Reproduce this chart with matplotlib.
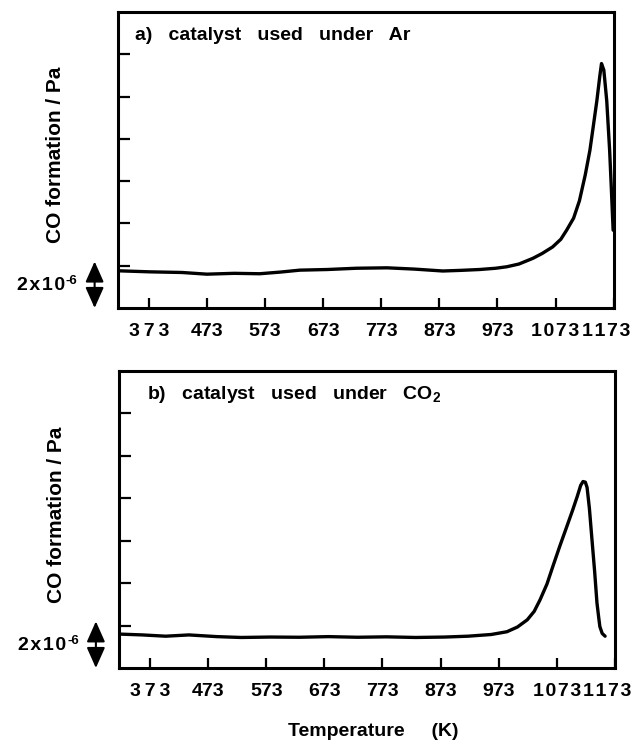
import matplotlib
matplotlib.use("Agg")
import matplotlib.pyplot as plt
from matplotlib.transforms import ScaledTranslation

plt.rcParams["font.family"] = ["Liberation Sans", "DejaVu Sans"]
plt.rcParams["font.weight"] = "bold"
plt.rcParams["mathtext.fontset"] = "custom"
plt.rcParams["mathtext.rm"] = "Liberation Sans:bold"
plt.rcParams["mathtext.bf"] = "Liberation Sans:bold"

# temperature (K) and CO signal (units of 1e-6 Pa above panel bottom)
temp_ar = [320, 375, 430, 473, 520, 564, 600, 633, 680, 730, 783, 830, 879, 910,
           942, 970, 989, 1010, 1034, 1050, 1068, 1082, 1092, 1104, 1114, 1124,
           1132, 1138, 1144, 1149, 1152, 1156, 1161, 1166, 1169, 1172]
co_ar = [1.76, 1.71, 1.68, 1.60, 1.64, 1.62, 1.70, 1.79, 1.82, 1.88, 1.90, 1.84,
         1.75, 1.78, 1.82, 1.88, 1.95, 2.08, 2.35, 2.58, 2.89, 3.25, 3.68, 4.25,
         5.07, 6.29, 7.45, 8.62, 9.80, 10.95, 11.56, 11.25, 9.80, 7.45, 5.6, 3.68]

temp_co2 = [320, 360, 400, 440, 488, 530, 580, 630, 680, 730, 780, 830, 880, 920,
            960, 987, 1005, 1022, 1034, 1044, 1056, 1066, 1078, 1090, 1100, 1108,
            1114, 1118, 1122, 1125, 1129, 1133, 1138, 1142, 1145, 1147, 1151, 1156]
co_co2 = [1.60, 1.56, 1.50, 1.56, 1.48, 1.44, 1.46, 1.45, 1.48, 1.45, 1.47, 1.44,
          1.46, 1.50, 1.58, 1.71, 1.93, 2.27, 2.67, 3.21, 3.96, 4.78, 5.74, 6.66,
          7.43, 8.08, 8.61, 8.79, 8.76, 8.51, 7.52, 6.19, 4.55, 3.07, 2.38, 1.95,
          1.63, 1.50]

x_ticks = [373, 473, 573, 673, 773, 873, 973, 1073, 1173]
x_labels = ["3\u20097\u20093", "473", "573", "673", "773", "873", "973",
            "1\u200a0\u200a7\u200a3", "1\u200a1\u200a7\u200a3"]
y_ticks = [2, 4, 6, 8, 10, 12]
titles = ["a)   catalyst   used   under   Ar",
          "b)   catalyst   used   under   CO$_2$"]

fig = plt.figure(figsize=(6.34, 7.42), dpi=100)
ax_a = fig.add_axes([0.186, 0.5849, 0.782, 0.399])
ax_b = fig.add_axes([0.188, 0.0997, 0.782, 0.4003])

for ax, t, c, title, tx in [(ax_a, temp_ar, co_ar, titles[0], 0.034),
                            (ax_b, temp_co2, co_co2, titles[1], 0.056)]:
    ax.plot(t, c, color="black", lw=2.4, solid_capstyle="round")
    ax.set_xlim(320, 1173)
    ax.set_ylim(0, 14)
    ax.set_xticks(x_ticks)
    ax.set_xticklabels(x_labels, fontsize=14, fontweight="bold")
    ax.set_yticks(y_ticks)
    ax.set_yticklabels([])
    ax.tick_params(axis="x", direction="in", length=7, width=1.6, pad=11)
    ax.tick_params(axis="y", direction="in", length=8.5, width=1.6)
    for sp in ax.spines.values():
        sp.set_linewidth(2.2)
    ax.text(tx, 0.92, title, transform=ax.transAxes, fontsize=14,
            fontweight="bold", va="center", ha="left")
    ax.set_ylabel("CO formation / Pa", fontsize=15, fontweight="bold")
    ax.yaxis.set_label_coords(-0.107, 0.517)
    # scale bar: 2x10^-6 Pa
    ax.annotate("", xy=(-0.047, 0), xytext=(-0.047, 2.2),
                xycoords=("axes fraction", "data"),
                textcoords=("axes fraction", "data"),
                arrowprops=dict(arrowstyle="<|-|>,head_length=0.9,head_width=0.4",
                                color="black", lw=1.5, shrinkA=0, shrinkB=0,
                                mutation_scale=14),
                annotation_clip=False)
    yt = ax.get_yaxis_transform()
    ax.text(-0.107, 1.05, "2\u200ax\u200a1\u200a0", transform=yt,
            fontsize=14, fontweight="bold", ha="right", va="center")
    ax.text(-0.105, 1.55, "-6", transform=yt,
            fontsize=9.5, fontweight="bold", ha="left", va="top")

ax_b.set_xlabel("Temperature     (K)", fontsize=14, fontweight="bold")
ax_b.xaxis.set_label_coords(0.513, -0.186)

# pull the last tick label (1173) in so it stays inside the figure
fig.canvas.draw()
for ax in (ax_a, ax_b):
    last = ax.xaxis.get_major_ticks()[-1].label1
    last.set_transform(last.get_transform()
                       + ScaledTranslation(-8 / 100, 0, fig.dpi_scale_trans))

fig.savefig("out.png", dpi=100)
